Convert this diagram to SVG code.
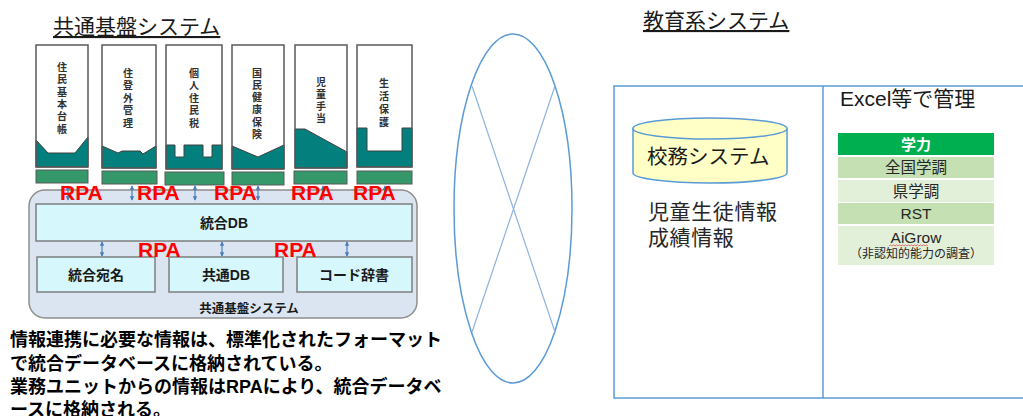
<svg xmlns="http://www.w3.org/2000/svg" width="1023" height="416" viewBox="0 0 1023 416">
<style>
.jp{font-family:"Liberation Sans","Noto Sans CJK JP",sans-serif}
.lat{font-family:"Liberation Sans","Noto Sans CJK JP",sans-serif}
.paper{fill:#ffffff;stroke:none}
.frame{fill:none;stroke:#595959;stroke-width:1.5}
.teal{fill:#037f7d;stroke:#404040;stroke-width:1}
.bar{fill:#35986a;stroke:#5a5a5a;stroke-width:1}
.vt{font-family:"Noto Sans CJK JP",sans-serif;font-size:10px;font-weight:bold;fill:#303030;writing-mode:vertical-rl;text-orientation:upright}
.cyanbox{fill:#d6f8fc;stroke:#7f7f7f;stroke-width:1.5}
.boxlbl{font-family:"Liberation Sans","Noto Sans CJK JP",sans-serif;font-size:14px;font-weight:bold;fill:#1a1a1a;text-anchor:middle}
.arrow{stroke:#4a7ebb;stroke-width:1.2;fill:none;marker-start:url(#ah);marker-end:url(#ah)}
.rpa{font-family:"Liberation Sans",sans-serif;font-size:21px;font-weight:bold;fill:#ff0000}
.title{font-family:"Noto Sans CJK JP",sans-serif;font-size:21px;fill:#1a1a1a;text-decoration:underline}
.para{font-family:"Liberation Sans","Noto Sans CJK JP",sans-serif;font-size:18px;font-weight:bold;fill:#000}
.blue{fill:none;stroke:#5b9bd5;stroke-width:1.5}
.cell{font-family:"Liberation Sans","Noto Sans CJK JP",sans-serif;font-size:15.5px;fill:#262626;text-anchor:middle}
</style>
<defs>
<marker id="ah" viewBox="0 0 6 6" refX="5" refY="3" markerWidth="4.5" markerHeight="4.5" markerUnits="userSpaceOnUse" orient="auto-start-reverse">
<path d="M0,0 L6,3 L0,6 z" fill="#4a7ebb"/>
</marker>
</defs>
<rect x="0" y="0" width="1023" height="416" fill="#ffffff"/>

<!-- Left title -->
<text class="title" x="53" y="34">共通基盤システム</text>

<!-- Business units -->
<g id="unit-jumin-kihon-daicho">
<rect class="paper" x="36" y="45" width="52" height="122"/>
<polygon class="teal" points="36,140 48,153 75,153 88,137 88,167 36,167"/>
<rect class="frame" x="36" y="45" width="52" height="122"/>
<text class="vt" x="62" y="62" letter-spacing="2.4">住民基本台帳</text>
<rect class="bar" x="36" y="170" width="52" height="13"/>
</g>
<g id="unit-juto-gai-kanri">
<rect class="paper" x="102" y="45" width="54" height="123"/>
<polygon class="teal" points="102,146 118,153 122,151 140,151 143,154 156,146 156,168 102,168"/>
<rect class="frame" x="102" y="45" width="54" height="123"/>
<text class="vt" x="128" y="68" letter-spacing="2.5">住登外管理</text>
<rect class="bar" x="102" y="171" width="55" height="13"/>
</g>
<g id="unit-kojin-juminzei">
<rect class="paper" x="166" y="45" width="56" height="124"/>
<polygon class="teal" points="166,145 175,145 175,157 184,157 184,145 203,145 203,157 212,157 212,145 222,145 222,169 166,169"/>
<rect class="frame" x="166" y="45" width="56" height="124"/>
<text class="vt" x="194" y="68" letter-spacing="2.5">個人住民税</text>
<rect class="bar" x="165" y="172" width="59" height="13"/>
</g>
<g id="unit-kokumin-kenko-hoken">
<rect class="paper" x="232" y="45" width="52" height="124"/>
<polygon class="teal" points="232,146 258,157 284,145 284,169 232,169"/>
<rect class="frame" x="232" y="45" width="52" height="124"/>
<text class="vt" x="257" y="68" letter-spacing="2.2">国民健康保険</text>
<rect class="bar" x="232" y="172" width="52" height="13"/>
</g>
<g id="unit-jido-teate">
<rect class="paper" x="295" y="45" width="52" height="123"/>
<polygon class="teal" points="295,129 305,129 347,152 347,168 295,168"/>
<rect class="frame" x="295" y="45" width="52" height="123"/>
<text class="vt" x="321" y="77" letter-spacing="2">児童手当</text>
<rect class="bar" x="294" y="171" width="53" height="13"/>
</g>
<g id="unit-seikatsu-hogo">
<rect class="paper" x="357" y="45" width="55" height="122"/>
<polygon class="teal" points="357,128 367,128 367,151 402,151 402,128 412,128 412,167 357,167"/>
<rect class="frame" x="357" y="45" width="55" height="122"/>
<text class="vt" x="384" y="78" letter-spacing="3">生活保護</text>
<rect class="bar" x="357" y="171" width="55" height="13"/>
</g>

<!-- Common platform -->
<g id="common-platform">
<rect x="29" y="190" width="388" height="128" rx="16" ry="16" fill="#dbe5f1" stroke="#8e8e8e" stroke-width="1.5"/>
<text x="249" y="313" font-family="Noto Sans CJK JP, sans-serif" font-size="12.5" font-weight="bold" fill="#1a1a1a" text-anchor="middle">共通基盤システム</text>
</g>
<g id="togo-db">
<rect class="cyanbox" x="36" y="204" width="376" height="37"/>
<text class="boxlbl" x="224" y="228">統合DB</text>
</g>
<g id="togo-atena">
<rect class="cyanbox" x="37" y="257" width="118" height="35"/>
<text class="boxlbl" x="96" y="280">統合宛名</text>
</g>
<g id="kyotsu-db">
<rect class="cyanbox" x="169" y="257" width="114" height="35"/>
<text class="boxlbl" x="226" y="280">共通DB</text>
</g>
<g id="code-jisho">
<rect class="cyanbox" x="297" y="257" width="115" height="35"/>
<text class="boxlbl" x="354" y="280">コード辞書</text>
</g>

<!-- Connectors -->
<g id="connectors">
<line class="arrow" x1="68" y1="186" x2="68" y2="200"/>
<line class="arrow" x1="132" y1="186" x2="132" y2="200"/>
<line class="arrow" x1="195" y1="186" x2="195" y2="200"/>
<line class="arrow" x1="258" y1="186" x2="258" y2="200"/>
<line class="arrow" x1="323" y1="186" x2="323" y2="200"/>
<line class="arrow" x1="385" y1="186" x2="385" y2="200"/>
<line class="arrow" x1="102" y1="242" x2="102" y2="256"/>
<line class="arrow" x1="222" y1="242" x2="222" y2="256"/>
<line class="arrow" x1="347" y1="242" x2="347" y2="256"/>
</g>
<g id="rpa-labels">
<text class="rpa" x="60" y="200">RPA</text>
<text class="rpa" x="137" y="200">RPA</text>
<text class="rpa" x="214" y="200">RPA</text>
<text class="rpa" x="291" y="200">RPA</text>
<text class="rpa" x="353" y="200">RPA</text>
<text class="rpa" x="138" y="257">RPA</text>
<text class="rpa" x="274" y="257">RPA</text>
</g>

<!-- Description -->
<g id="description">
<text class="para"><tspan x="10" y="346">情報連携に必要な情報は、標準化されたフォーマット</tspan><tspan x="10" y="369.5">で統合データベースに格納されている。</tspan><tspan x="10" y="392.5">業務ユニットからの情報はRPAにより、統合データベ</tspan><tspan x="10" y="415.5">ースに格納される。</tspan></text>
</g>

<!-- No-link crossed ellipse -->
<g id="no-link">
<ellipse cx="513" cy="208.5" rx="59" ry="174.5" fill="none" stroke="#5b9bd5" stroke-width="1.5"/>
<line x1="472" y1="86" x2="555" y2="332" stroke="#8fb2dc" stroke-width="1.2"/>
<line x1="555" y1="86" x2="472" y2="332" stroke="#8fb2dc" stroke-width="1.2"/>
</g>

<!-- Right title -->
<text class="title" x="643" y="28">教育系システム</text>

<!-- Education system box -->
<g id="education-system">
<rect class="blue" x="614" y="86" width="420" height="312"/>
<line class="blue" x1="823" y1="86" x2="823" y2="398"/>
</g>

<g id="komu-system">
<path d="M633,128.5 V173 A77,10 0 0 0 787,173 V128.5 Z" fill="#ffffc6" stroke="#5b9bd5" stroke-width="1.5"/>
<ellipse cx="710" cy="128.5" rx="77" ry="10.5" fill="#ffffc6" stroke="#5b9bd5" stroke-width="1.5"/>
<text class="jp" x="647" y="164" font-size="20.5" fill="#1a1a1a">校務システム</text>
</g>
<g id="komu-info">
<text class="jp" font-size="21" letter-spacing="0.6" fill="#262626"><tspan x="648" y="219">児童生徒情報</tspan><tspan x="648" y="245">成績情報</tspan></text>
</g>

<g id="excel-managed">
<text class="lat" x="840" y="106" font-size="21" fill="#1a1a1a">Excel等で管理</text>
<rect x="838" y="133" width="156" height="22" fill="#00b050"/>
<text x="916" y="149.5" font-family="Noto Sans CJK JP, sans-serif" font-size="15" font-weight="bold" fill="#ffffff" text-anchor="middle">学力</text>
<rect x="838" y="157" width="156" height="21" fill="#c5e0b3"/>
<text class="cell" x="916" y="173">全国学調</text>
<rect x="838" y="180" width="156" height="22" fill="#e2efd9"/>
<text class="cell" x="916" y="197">県学調</text>
<rect x="838" y="203" width="156" height="21" fill="#c5e0b3"/>
<text class="cell" x="916" y="219">RST</text>
<rect x="838" y="226" width="156" height="39" fill="#e2efd9"/>
<text class="cell" x="916" y="243" font-size="16">AiGrow</text>
<path d="M889,246 l1.5,-1.2 l1.5,1.2 l1.5,-1.2 l1.5,1.2 l1.5,-1.2 l1.5,1.2 l1.5,-1.2 l1.5,1.2 l1.5,-1.2 l1.5,1.2 l1.5,-1.2 l1.5,1.2 l1.5,-1.2 l1.5,1.2 l1.5,-1.2 l1.5,1.2 l1.5,-1.2 l1.5,1.2 l1.5,-1.2 l1.5,1.2 l1.5,-1.2 l1.5,1.2 l1.5,-1.2 l1.5,1.2 l1.5,-1.2 l1.5,1.2" fill="none" stroke="#e05050" stroke-width="0.8"/>
<text x="916" y="258" font-family="Noto Sans CJK JP, sans-serif" font-size="12" fill="#262626" text-anchor="middle">（非認知的能力の調査）</text>
</g>
</svg>
